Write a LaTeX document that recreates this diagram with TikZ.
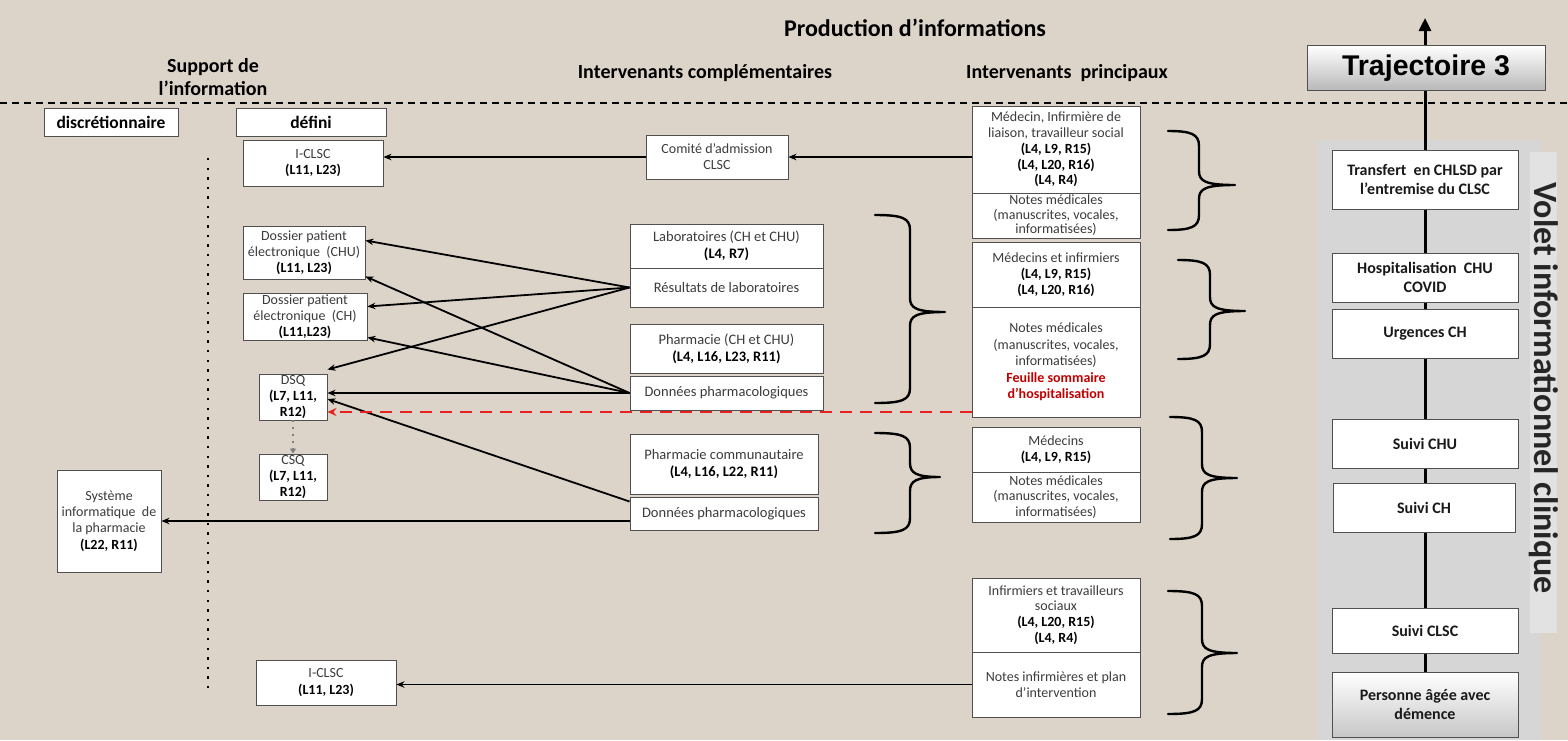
\documentclass[tikz,border=0pt]{standalone}
\usepackage{fontspec}
\setmainfont{Carlito}
\newfontfamily\arialf{Liberation Sans}
\usetikzlibrary{arrows.meta,calc}
\definecolor{bgbeige}{RGB}{220,212,200}
\definecolor{panelgray}{RGB}{214,214,214}
\definecolor{stripgray}{RGB}{226,226,226}
\definecolor{boxline}{RGB}{80,80,80}
\definecolor{txt}{RGB}{60,60,60}
\definecolor{darkred}{RGB}{192,0,0}
\definecolor{dashred}{RGB}{232,32,32}
\pgfdeclarelayer{bg}
\pgfdeclarelayer{mid}
\pgfsetlayers{bg,mid,main}
\newcommand{\blk}[1]{\textbf{\textcolor{black}{#1}}}
\newcommand{\rbr}[6]{% x0, xm, xtip, ytop, ymid, ybot
  \draw[brc] (#1,#4) .. controls ({#2-8},#4) and (#2,{#4+3}) .. (#2,{#4+15})
    -- (#2,{#5-14}) .. controls (#2,{#5-4}) and ({#2+6},#5) .. (#3,#5)
    .. controls ({#2+6},#5) and (#2,{#5+4}) .. (#2,{#5+14})
    -- (#2,{#6-15}) .. controls (#2,{#6-3}) and ({#2-8},#6) .. (#1,#6);}
\tikzset{
  box/.style={draw=boxline, line width=0.9pt, fill=white, align=center, inner sep=0.5pt,
    text=txt, font=\fontsize{14}{16.2}\selectfont},
  pbox/.style={box, minimum width=168pt, font=\fontsize{14}{15.8}\selectfont},
  mbox/.style={box, font=\fontsize{14.5}{17}\selectfont},
  hdr/.style={font=\bfseries\fontsize{20}{23}\selectfont, align=center, text=black},
  lab/.style={draw=boxline, line width=0.9pt, fill=white, font=\bfseries\fontsize{17.5}{20}\selectfont, text=black},
  trk/.style={draw=boxline, line width=0.9pt, fill=white, align=center,
    font=\bfseries\fontsize{16}{19.5}\selectfont, text=black!90, minimum width=186pt, minimum height=49pt},
  shadedtrk/.style={trk, top color=white, bottom color=black!22},
  arr/.style={line width=1.8pt, -{Stealth[length=8pt,width=6.5pt]}},
  brc/.style={line width=2.4pt, line join=round, line cap=round},
}
\begin{document}
\begin{tikzpicture}[x=1pt,y=-1pt]
\useasboundingbox (0,0) rectangle (1568,740);
\begin{pgfonlayer}{bg}
  \fill[bgbeige] (0,0) rectangle (1568,740);
  \fill[panelgray] (1317,140) rectangle (1540,740);
  \fill[stripgray] (1530,152) rectangle (1557,633);
\end{pgfonlayer}

% headers
\node[hdr, font=\bfseries\fontsize{24}{28}\selectfont] (prod) at (915,28) {Production d’informations};
\node[hdr] (support) at (213,77) {Support de\\l’information};
\node[hdr] (compl) at (705,73) {Intervenants complémentaires};
\node[hdr] (princ) at (1067,73) {Intervenants\ \ principaux};
\coordinate (hl) at (0,103);
\coordinate (hr) at (1568,103);
\begin{pgfonlayer}{mid}
  \draw[line width=1.3pt, dash pattern=on 7pt off 5pt] (hl) -- (hr);
\end{pgfonlayer}

% left column
\node[lab, minimum width=134pt, minimum height=28pt] (disc) at (111,122) {discrétionnaire};
\node[lab, minimum width=150pt, minimum height=28pt] (defini) at (311,122) {défini};
\coordinate (dtop) at (208,158);
\coordinate (dbot) at (208,693);
\draw[line width=2.4pt, dash pattern=on 2.4pt off 7.2pt] (dtop) -- (dbot);

\node[box, minimum width=140pt, minimum height=46pt] (iclsca) at (313,163) {I-CLSC\\\blk{(L11, L23)}};
\node[box, minimum width=122pt, minimum height=53pt] (dpechu) at (304,252.5) {Dossier patient\\électronique\ \ (CHU)\\\blk{(L11, L23)}};
\node[box, minimum width=124pt, minimum height=47pt] (dpech) at (305,316.5) {Dossier patient\\électronique\ \ (CH)\\\blk{(L11,L23)}};
\node[box, minimum width=68pt, minimum height=46pt] (dsq) at (293,397) {DSQ\\\blk{(L7, L11,}\\\blk{R12)}};
\node[box, minimum width=68pt, minimum height=46pt] (csq) at (293,477) {CSQ\\\blk{(L7, L11,}\\\blk{R12)}};
\node[box, minimum width=104pt, minimum height=102pt] (sysph) at (109,521) {Système\\informatique\ \ de\\la pharmacie\\\blk{(L22, R11)}};
\node[box, minimum width=140pt, minimum height=45pt] (iclscb) at (326,682.5) {I-CLSC\\\blk{(L11, L23)}};

% middle column
\node[box, minimum width=142pt, minimum height=44pt] (comite) at (717,157) {Comité d’admission\\CLSC};
\node[mbox, minimum width=193pt, minimum height=44pt] (labo) at (726.5,246) {Laboratoires (CH et CHU)\\\blk{(L4, R7)}};
\node[mbox, minimum width=193pt, minimum height=39pt] (resl) at (726.5,287.5) {Résultats de laboratoires};
\node[mbox, minimum width=193pt, minimum height=49pt] (pharm) at (726.5,348.5) {Pharmacie (CH et CHU)\\\blk{(L4, L16, L23, R11)}};
\node[mbox, minimum width=193pt, minimum height=34pt] (dpha) at (726.5,393) {Données pharmacologiques};
\node[mbox, minimum width=188pt, minimum height=60pt] (pcom) at (724,464) {Pharmacie communautaire\\\blk{(L4, L16, L22, R11)}};
\node[mbox, minimum width=188pt, minimum height=33pt] (dphb) at (724,513.5) {Données pharmacologiques};

% principal column
\node[pbox, minimum height=87pt] (p1) at (1056,149.5) {Médecin, Infirmière de\\liaison, travailleur social\\\blk{(L4, L9, R15)}\\\blk{(L4, L20, R16)}\\\blk{(L4, R4)}};
\node[pbox, minimum height=45pt, font=\fontsize{14}{14.6}\selectfont] (p1b) at (1056,215.5) {Notes médicales\\(manuscrites, vocales,\\informatisées)};
\node[pbox, minimum height=65pt] (p2) at (1056,274.5) {Médecins et infirmiers\\\blk{(L4, L9, R15)}\\\blk{(L4, L20, R16)}};
\node[pbox, minimum height=110pt, font=\fontsize{14}{16.5}\selectfont] (p2b) at (1056,362) {Notes médicales\\(manuscrites, vocales,\\informatisées)\\\textbf{\textcolor{darkred}{Feuille sommaire}}\\\textbf{\textcolor{darkred}{d’hospitalisation}}};
\node[pbox, minimum height=45pt] (p3) at (1056,449.5) {Médecins\\\blk{(L4, L9, R15)}};
\node[pbox, minimum height=50pt] (p3b) at (1056,497) {Notes médicales\\(manuscrites, vocales,\\informatisées)};
\node[pbox, minimum height=74pt] (p4) at (1056,615) {Infirmiers et travailleurs\\sociaux\\\blk{(L4, L20, R15)}\\\blk{(L4, R4)}};
\node[pbox, minimum height=65pt] (p4b) at (1056,684.5) {Notes infirmières et plan\\d’intervention};

% braces
\rbr{1168}{1199}{1235}{131}{185}{230}
\rbr{1178}{1210}{1245}{260}{311}{359}
\rbr{1170}{1202}{1237}{417}{478}{539}
\rbr{1168}{1202}{1237}{591}{653}{714}
\rbr{875}{910}{945}{215}{312}{403}
\rbr{875}{910}{940}{433}{477}{533}

% track
\node[trk, minimum height=59pt] (trans) at (1425,179.5) {Transfert\ \ en CHLSD par\\l’entremise du CLSC};
\node[trk] (hosp) at (1425,277.5) {Hospitalisation\ \ CHU\\COVID};
\node[trk] (urg) at (1425,333.5) {Urgences CH};
\node[trk] (suchu) at (1425,443.5) {Suivi CHU};
\node[trk, minimum width=182pt] (such) at (1424,507.5) {Suivi CH};
\node[trk, minimum height=45pt] (suclsc) at (1425,631) {Suivi CLSC};
\node[shadedtrk, minimum height=65pt] (pers) at (1425,704.5) {Personne âgée avec\\démence};
\node[draw=boxline, line width=0.9pt, top color=white, bottom color=black!28, minimum width=238pt, minimum height=45pt,
  font=\arialf\bfseries\fontsize{28.5}{32}\selectfont, text=black] (traj) at (1426,68) {Trajectoire 3};
\coordinate (trtip) at (1425,18);
\begin{pgfonlayer}{mid}
  \draw[line width=3pt, -{Triangle[length=13pt,width=12pt]}] (pers.north) -- (trtip);
\end{pgfonlayer}
\node[rotate=-90, font=\bfseries\fontsize{34}{36}\selectfont, text=black!85] (volet) at (1544,388) {Volet informationnel clinique};

% connectors
\draw[arr] (p1.west |- comite.east) -- (comite.east);
\draw[arr] (comite.west) -- (comite.west -| iclsca.east);
\draw[arr] (resl.west) -- ([yshift=12pt]dpechu.east);
\draw[arr] (resl.west) -- ([yshift=10pt]dpech.east);
\draw[arr] (resl.west) -- ([yshift=4pt]dsq.north east);
\draw[arr] (dpha.west) -- ([yshift=3pt]dpechu.south east);
\draw[arr] (dpha.west) -- ([yshift=3pt]dpech.south east);
\draw[arr] (dpha.west) -- (dpha.west -| dsq.east);
\draw[arr] ([yshift=12pt]dphb.west) -- ([yshift=-2pt]dsq.east);
\draw[arr] (dphb.west |- sysph.east) -- (sysph.east);
\draw[arr] (p4b.west) -- (p4b.west -| iclscb.east);
\draw[dashred, line width=2.5pt, dash pattern=on 12pt off 8pt, -{Stealth[length=9pt,width=8pt]}]
  ([yshift=-50pt]p2b.west) -- ([yshift=-50pt]p2b.west -| dsq.east);
\draw[black!50, line width=2pt, dash pattern=on 2pt off 5pt, -{Triangle[length=5pt,width=6pt]}] (dsq.south) -- (csq.north);
\end{tikzpicture}
\end{document}
